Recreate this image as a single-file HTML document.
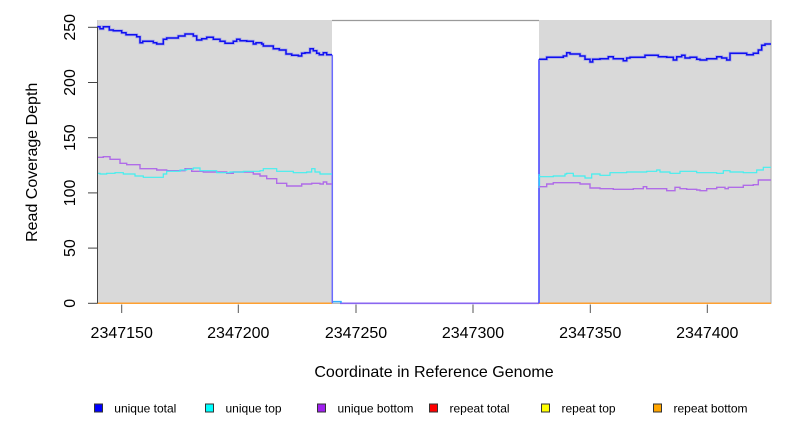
<!DOCTYPE html>
<html><head><meta charset="utf-8"><style>
html,body{margin:0;padding:0;background:#fff;}
svg{display:block;font-family:"Liberation Sans",Arial,sans-serif;}
</style></head><body>
<svg width="792" height="432" viewBox="0 0 792 432" xmlns="http://www.w3.org/2000/svg">
<rect x="0" y="0" width="792" height="432" fill="#fff"/>
<!-- plot box -->
<rect x="97.5" y="20.5" width="673.5" height="282.8" fill="none" stroke="#a8a8a8" stroke-width="1"/>
<!-- gray regions -->
<rect x="97.3" y="20" width="234.7" height="283.3" fill="#d9d9d9"/>
<rect x="539" y="20" width="232" height="283.3" fill="#d9d9d9"/>
<line x1="771" y1="20" x2="771" y2="303.3" stroke="#b4b4b4" stroke-width="1.2"/>
<line x1="332" y1="20.5" x2="539" y2="20.5" stroke="#9a9a9a" stroke-width="1.2"/>

<!-- orange baseline (repeat) -->
<line x1="97.3" y1="303.3" x2="332" y2="303.3" stroke="#ffa030" stroke-width="1.5"/>
<line x1="539" y1="303.3" x2="771" y2="303.3" stroke="#ffa030" stroke-width="1.5"/>
<!-- gap lines -->
<line x1="340" y1="303.3" x2="539" y2="303.3" stroke="#8a66f0" stroke-width="1.6"/>
<path d="M332,301.6 H341 V303" fill="none" stroke="#30b0ff" stroke-width="1.5"/>
<line x1="332.3" y1="54.7" x2="332.3" y2="303.3" stroke="#6a6aff" stroke-width="1.5"/>
<line x1="539" y1="59.3" x2="539" y2="303.3" stroke="#4a4aff" stroke-width="1.6"/>
<line x1="539.3" y1="174" x2="539.3" y2="188" stroke="#30c8ff" stroke-width="1.6"/>

<!-- purple (unique bottom) -->
<g fill="none" stroke="#b06ce8" stroke-width="1.4">
<path d="M97.3,157.3 H103.3 V156.7 H110 V159.3 H120 V163.3 H126.7 V164.7 H140 V168.7 H156.7 V170 H166.7 V170.7 H185 V168.7 H191.7 V171.3 H203.3 V172 H226.7 V173.3 H233.3 V172 H253.3 V174 H260 V176 H266.7 V178.7 H276.7 V183.3 H286.7 V186 H301.7 V184 H311.7 V183.3 H320 V184 H323.3 V182 H326.7 V184 H332"/>
<path d="M539,186.7 H546.7 V184 H553.3 V182.7 H580 V184 H590 V188 H600 V188.7 H613.3 V189.3 H633.3 V188.7 H643.3 V186.7 H646.7 V188.7 H666.7 V190.7 H675 V187.3 H680 V188.7 H686.7 V189.3 H696.7 V190 H700 V190.7 H706.7 V188.7 H716.7 V187.3 H725 V188.7 H728.3 V187.3 H743.3 V185.3 H753.3 V184.7 H758.3 V180 H771"/>
</g>
<!-- cyan (unique top) -->
<g fill="none" stroke="#40f0f0" stroke-width="1.2">
<path d="M97.3,173.3 H100 V174 H106.7 V173.3 H115 V172.7 H123.3 V174 H135 V176 H143.3 V177.3 H163.3 V174 H166.7 V171.3 H180 V170 H186.7 V169.3 H193.3 V168 H200 V170.7 H216.7 V172.7 H230 V172 H243.3 V171.3 H260 V170.7 H263.3 V168.7 H276.7 V171.3 H293.3 V172.7 H306.7 V172 H311.7 V168.7 H315 V172 H320 V174 H332"/>
<path d="M539,176.7 H553.3 V176 H565 V174 H566.7 V173.3 H573.3 V176 H585 V178 H591.7 V174 H600 V175.3 H610 V172.7 H626.7 V172 H646.7 V171.3 H656.7 V170 H660 V172 H670 V173.3 H680 V171.3 H696.7 V172.7 H716.7 V173.3 H723.3 V170.7 H730 V172 H743.3 V172.7 H756.7 V170 H763.3 V167.3 H771"/>
</g>
<!-- blue (unique total) -->
<g fill="none" stroke-linejoin="miter">
<g stroke="#8c8cf0" stroke-width="3" opacity="0.6">
<path id="bl" d="M97.3,26.7 H100 V28.7 H103.3 V26.7 H109.3 V30 H113.3 V30.7 H121.7 V32.7 H126 V34.7 H136.7 V36.7 H140 V42.7 H142.7 V41.3 H153.3 V42.7 H156.7 V44 H163.3 V39.3 H166.7 V38 H178.3 V36 H185 V34 H193.3 V36 H196.7 V40 H201.7 V38.7 H206.7 V37.3 H213.3 V39.3 H220 V41.3 H225 V43.3 H233.3 V41.3 H236.7 V39.3 H240 V40.7 H246.7 V41.3 H253.3 V44 H256 V42.7 H261.7 V44 H263.3 V46 H273.3 V48.7 H279.3 V50 H286 V54 H291.7 V55.3 H298.3 V56 H301.7 V53.3 H305 V52.7 H310 V48.7 H313.3 V50.7 H316.7 V53.3 H319.3 V54.7 H323.3 V52.7 H326.7 V54.7 H332"/>
<path d="M539,59.3 H546.7 V57.3 H563.3 V56 H566.7 V52.7 H570 V54 H580 V56 H585 V59.3 H590 V62 H592.7 V59.3 H600 V58.7 H608.3 V56.7 H613.3 V58.7 H623.3 V60.7 H626.7 V58 H630 V57.3 H645 V55.3 H658.3 V56.7 H666.7 V57.3 H673.3 V60 H676.7 V56.7 H681.7 V55.3 H685 V58 H690 V57.3 H696.7 V59.3 H700 V60 H706.7 V58.7 H716.7 V56.7 H721.7 V58 H726.7 V60 H730 V53.3 H746.7 V54.7 H753.3 V53.3 H758.3 V50 H761.7 V45.3 H765 V44 H771"/>
</g>
<g stroke="#1010f0" stroke-width="1.5">
<path d="M97.3,26.7 H100 V28.7 H103.3 V26.7 H109.3 V30 H113.3 V30.7 H121.7 V32.7 H126 V34.7 H136.7 V36.7 H140 V42.7 H142.7 V41.3 H153.3 V42.7 H156.7 V44 H163.3 V39.3 H166.7 V38 H178.3 V36 H185 V34 H193.3 V36 H196.7 V40 H201.7 V38.7 H206.7 V37.3 H213.3 V39.3 H220 V41.3 H225 V43.3 H233.3 V41.3 H236.7 V39.3 H240 V40.7 H246.7 V41.3 H253.3 V44 H256 V42.7 H261.7 V44 H263.3 V46 H273.3 V48.7 H279.3 V50 H286 V54 H291.7 V55.3 H298.3 V56 H301.7 V53.3 H305 V52.7 H310 V48.7 H313.3 V50.7 H316.7 V53.3 H319.3 V54.7 H323.3 V52.7 H326.7 V54.7 H332"/>
<path d="M539,59.3 H546.7 V57.3 H563.3 V56 H566.7 V52.7 H570 V54 H580 V56 H585 V59.3 H590 V62 H592.7 V59.3 H600 V58.7 H608.3 V56.7 H613.3 V58.7 H623.3 V60.7 H626.7 V58 H630 V57.3 H645 V55.3 H658.3 V56.7 H666.7 V57.3 H673.3 V60 H676.7 V56.7 H681.7 V55.3 H685 V58 H690 V57.3 H696.7 V59.3 H700 V60 H706.7 V58.7 H716.7 V56.7 H721.7 V58 H726.7 V60 H730 V53.3 H746.7 V54.7 H753.3 V53.3 H758.3 V50 H761.7 V45.3 H765 V44 H771"/>
</g>
</g>

<!-- y axis -->
<g stroke="#444" stroke-width="1">
<line x1="97.5" y1="27.3" x2="97.5" y2="303.3"/>
<line x1="88" y1="27.3" x2="97.5" y2="27.3"/>
<line x1="88" y1="82.5" x2="97.5" y2="82.5"/>
<line x1="88" y1="137.7" x2="97.5" y2="137.7"/>
<line x1="88" y1="192.9" x2="97.5" y2="192.9"/>
<line x1="88" y1="248.1" x2="97.5" y2="248.1"/>
<line x1="88" y1="303.3" x2="97.5" y2="303.3"/>
</g>
<g font-size="16" fill="#000" text-anchor="middle">
<text transform="translate(75,27.3) rotate(-90)">250</text>
<text transform="translate(75,82.5) rotate(-90)">200</text>
<text transform="translate(75,137.7) rotate(-90)">150</text>
<text transform="translate(75,192.9) rotate(-90)">100</text>
<text transform="translate(75,248.1) rotate(-90)">50</text>
<text transform="translate(75,303.3) rotate(-90)">0</text>
</g>
<!-- x axis ticks -->
<g stroke="#555" stroke-width="1">
<line x1="121.7" y1="304.5" x2="121.7" y2="313"/>
<line x1="238.3" y1="304.5" x2="238.3" y2="313"/>
<line x1="356" y1="304.5" x2="356" y2="313"/>
<line x1="473" y1="304.5" x2="473" y2="313"/>
<line x1="590.3" y1="304.5" x2="590.3" y2="313"/>
<line x1="707.3" y1="304.5" x2="707.3" y2="313"/>
</g>
<g font-size="16" fill="#000" text-anchor="middle">
<text x="121.7" y="338">2347150</text>
<text x="238.3" y="338">2347200</text>
<text x="356" y="338">2347250</text>
<text x="473" y="338">2347300</text>
<text x="590.3" y="338">2347350</text>
<text x="707.3" y="338">2347400</text>
</g>
<!-- titles -->
<text x="434" y="377" font-size="16" text-anchor="middle" fill="#000">Coordinate in Reference Genome</text>
<text transform="translate(37,162.3) rotate(-90)" font-size="16" text-anchor="middle" fill="#000">Read Coverage Depth</text>

<!-- legend -->
<g stroke="#333" stroke-width="1">
<rect x="94.5" y="404" width="8" height="8" fill="#0000ff"/>
<rect x="205.5" y="404" width="8" height="8" fill="#00ffff"/>
<rect x="317.5" y="404" width="8" height="8" fill="#a020f0"/>
<rect x="429.5" y="404" width="8" height="8" fill="#ff0000"/>
<rect x="541.5" y="404" width="8" height="8" fill="#ffff00"/>
<rect x="653.5" y="404" width="8" height="8" fill="#ffa500"/>
</g>
<g font-size="12" fill="#000">
<text x="114.3" y="412.5">unique total</text>
<text x="225.5" y="412.5">unique top</text>
<text x="337.5" y="412.5">unique bottom</text>
<text x="449.5" y="412.5">repeat total</text>
<text x="561.5" y="412.5">repeat top</text>
<text x="673.5" y="412.5">repeat bottom</text>
</g>
</svg>
</body></html>
